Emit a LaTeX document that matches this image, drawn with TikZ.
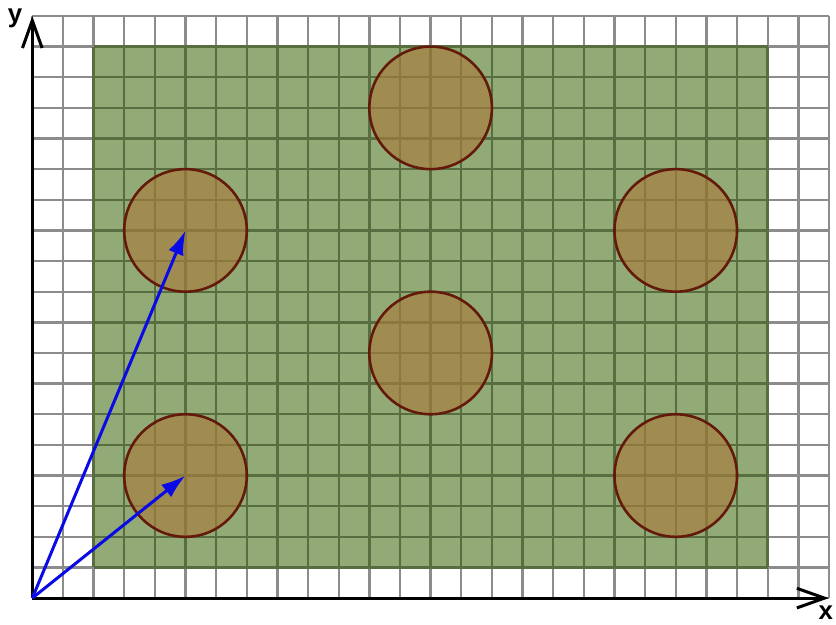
\documentclass[tikz,border=0pt]{standalone}
\usepackage{fontspec}
\setsansfont{Liberation Sans}
\usepackage{tikz}
\usetikzlibrary{arrows.meta}
\usetikzlibrary{shapes.geometric,positioning,calc}
\definecolor{gridgray}{RGB}{140,140,140}
\definecolor{plategreen}{RGB}{146,171,118}
\definecolor{gridgreen}{RGB}{88,110,64}
\definecolor{holefill}{RGB}{168,124,62}
\definecolor{holeline}{RGB}{100,26,10}
\definecolor{vecblue}{RGB}{10,10,230}
\tikzset{
	hole/.style={circle, draw=holeline, line width=1.2pt, fill=holefill, fill opacity=0.65, minimum size=2cm, inner sep=0pt},
	axislabel/.style={font=\sffamily\bfseries\fontsize{12}{13}\selectfont, inner sep=0pt}
}

\begin{document}
\begin{tikzpicture}[x=0.5cm,y=0.5cm]
	\useasboundingbox (-1.054,-0.85) rectangle (26.23,19.52);
	\draw [gridgray, line width =1.1pt, step=0.5cm] (0,0) grid (26,19);
	\fill [plategreen] (2,1) rectangle (24,18);
	\draw [gridgreen, line width =1.1pt, step=0.5cm] (2,1) grid (24,18);
	\coordinate (O) at (0,0);
	\node [hole] (h1) at (5,4) {};
	\node [hole] (h2) at (5,12) {};
	\node [hole] (h3) at (13,8) {};
	\node [hole] (h4) at (13,16) {};
	\node [hole] (h5) at (21,4) {};
	\node [hole] (h6) at (21,12) {};
	\draw [line width =1.4pt,-{Straight Barb[length=4.5mm,width=3.2mm]}] (O) -- (26,0) coordinate (xend);
	\draw [line width =1.4pt,-{Straight Barb[length=4.5mm,width=3.2mm]}] (O) -- (0,19) coordinate (yend);
	\node [axislabel] (xl) at (25.9,-0.46) {x};
	\node [axislabel] (yl) at (-0.56,18.93) {y};
	\draw [vecblue, line width =1.4pt,-{Latex[length=4mm,width=2.6mm]}] (O) -- (h1.center);
	\draw [vecblue, line width =1.4pt,-{Latex[length=4mm,width=2.6mm]}] (O) -- (h2.center);
\end{tikzpicture}
\end{document}
